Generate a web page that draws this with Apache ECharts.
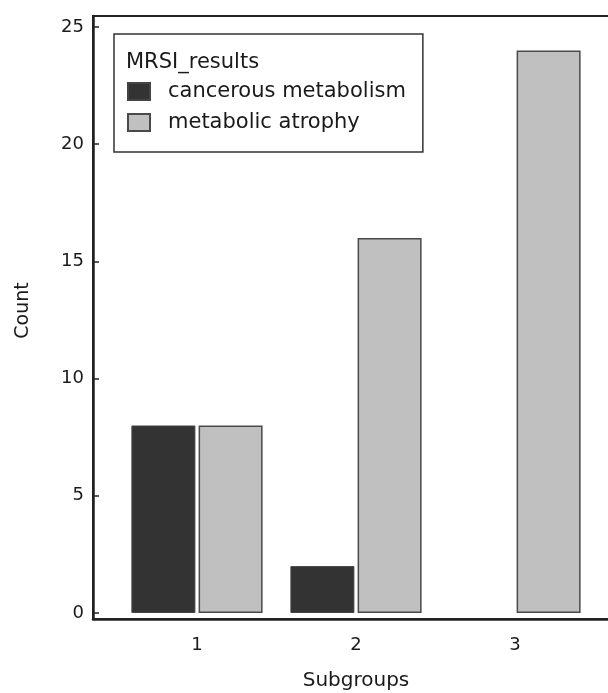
<!DOCTYPE html>
<html>
<head>
<meta charset="utf-8">
<script src="https://cdn.jsdelivr.net/npm/echarts@6/dist/echarts.min.js"></script>
<style>
  html, body { margin: 0; padding: 0; background: #fff; }
  #ec { width: 608px; height: 693px; }
</style>
</head>
<body>
<div id="ec"></div>
<script>
const subgroups = [1, 2, 3];
const cancerous = [8, 2, 0];
const atrophy = [8, 16, 24];
const yTicks = [0, 5, 10, 15, 20, 25];
const seriesNames = ["cancerous metabolism", "metabolic atrophy"];

const font = "DejaVu Sans";

// pairs [subgroup, count], empty groups are left out
function toPairs(values) {
  return subgroups
    .map((g, i) => [g, values[i]])
    .filter((d) => d[1] > 0);
}

const chart = echarts.init(document.getElementById("ec"));
chart.setOption({
  animation: false,
  title: {
    text: "MRSI_results",
    left: 126,
    top: 52,
    padding: 0,
    textStyle: { fontFamily: font, fontSize: 21, fontWeight: "normal", color: "#1a1a1a" },
  },
  legend: {
    orient: "vertical",
    left: 114,
    top: 34,
    padding: [42, 17, 14, 13],
    itemGap: 0,
    itemWidth: 22,
    itemHeight: 17,
    icon: "rect",
    borderColor: "#333",
    borderWidth: 1.5,
    backgroundColor: "#fff",
    data: seriesNames,
    textStyle: {
      fontFamily: font,
      fontSize: 21,
      lineHeight: 31,
      color: "#1a1a1a",
      padding: [0, 0, 0, 13],
    },
  },
  grid: {
    left: 93,
    right: -11,
    top: 16,
    bottom: 74,
    outerBoundsMode: "none",
    show: true,
    borderColor: "#222",
    borderWidth: 2,
  },
  xAxis: {
    type: "value",
    min: 0.346,
    max: 3.654,
    name: "Subgroups",
    nameLocation: "middle",
    nameGap: 52,
    nameTextStyle: { fontFamily: font, fontSize: 20, color: "#1a1a1a" },
    axisLine: { show: true, onZero: false, lineStyle: { color: "#222", width: 2.5 } },
    axisTick: { show: false },
    splitLine: { show: false },
    axisLabel: {
      customValues: subgroups,
      margin: 17,
      fontFamily: font,
      fontSize: 18,
      color: "#1a1a1a",
    },
  },
  yAxis: {
    type: "value",
    min: -0.256,
    max: 25.47,
    name: "Count",
    nameLocation: "middle",
    nameRotate: 90,
    nameGap: 60,
    nameTextStyle: { fontFamily: font, fontSize: 19, color: "#1a1a1a", padding: [0, 0, 0, 14] },
    axisLine: { show: true, onZero: false, lineStyle: { color: "#222", width: 2.5 } },
    axisTick: {
      show: true,
      inside: true,
      length: 6,
      customValues: yTicks,
      lineStyle: { color: "#222", width: 1.5 },
    },
    splitLine: { show: false },
    axisLabel: {
      customValues: yTicks,
      margin: 9,
      fontFamily: font,
      fontSize: 18,
      color: "#1a1a1a",
    },
  },
  series: [
    {
      name: seriesNames[0],
      type: "bar",
      data: toPairs(cancerous),
      barWidth: 64,
      barGap: "5%",
      itemStyle: { color: "#333333", borderColor: "#444", borderWidth: 1 },
    },
    {
      name: seriesNames[1],
      type: "bar",
      data: toPairs(atrophy),
      barWidth: 64,
      barGap: "5%",
      itemStyle: { color: "#c0c0c0", borderColor: "#4a4a4a", borderWidth: 1.5 },
    },
  ],
});
</script>
</body>
</html>
